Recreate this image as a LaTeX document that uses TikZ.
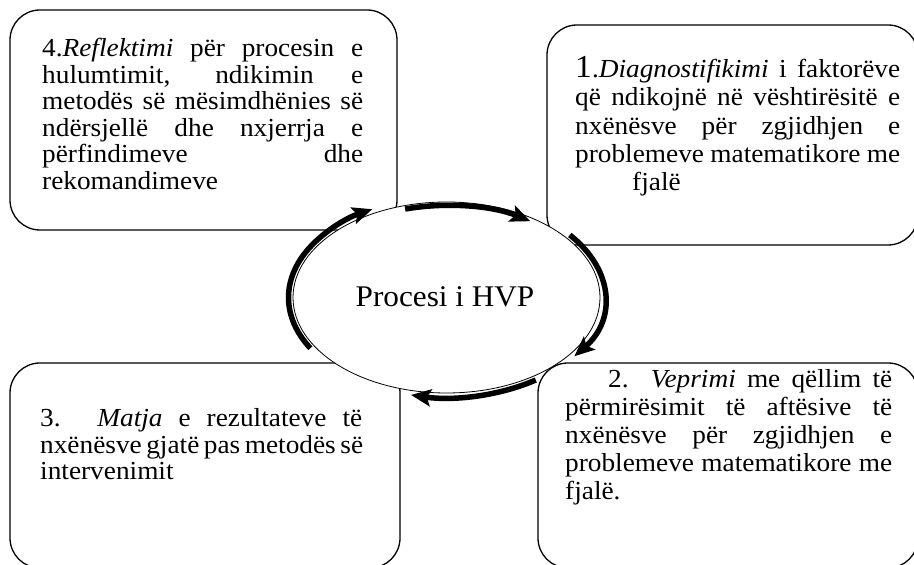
\documentclass[tikz,border=0pt]{standalone}
\usepackage{fontspec}
\setmainfont{Liberation Serif}
\newfontfamily\boxfont[FakeStretch=1.05]{Liberation Serif}
\newfontfamily\hubfont[FakeStretch=1.04]{Liberation Serif}
\usetikzlibrary{arrows.meta,shapes.geometric}

% one justified line of box text, spread to the given width
\newcommand\justline[5]{\node[txtline] (#1) at (#2,#3) {\makebox[#4pt][s]{#5}};}
% one ragged line of box text
\newcommand\plainline[4]{\node[txtline] (#1) at (#2,#3) {#4};}

\begin{document}
\begin{tikzpicture}[x=1pt,y=1pt,
  stagebox/.style={draw, rounded corners=30pt, line width=1.3pt, inner sep=0pt},
  txtline/.style={anchor=base west, inner sep=0pt, font=\boxfont\fontsize{26}{26}\selectfont},
  cyc/.style={line width=5.5pt, -{Stealth[length=20pt,width=17pt,inset=4pt]}}
]
\useasboundingbox (0,0) rectangle (914,565);

% the four stage boxes
\node[stagebox, minimum width=387pt, minimum height=220pt] (b4) at (203.5,445) {};
\node[stagebox, minimum width=371pt, minimum height=220pt] (b1) at (732.5,430) {};
\node[stagebox, minimum width=390pt, minimum height=205pt] (b3) at (205,99.5) {};
\node[stagebox, minimum width=380pt, minimum height=205pt] (b2) at (728,99.5) {};

% box 4 text
\justline{t4a}{42}{508}{321}{4.\textit{Reflektimi} për procesin e}
\justline{t4b}{42}{481.5}{321}{hulumtimit, ndikimin e}
\justline{t4c}{42}{455}{321}{metodës së mësimdhënies së}
\justline{t4d}{42}{428.5}{321}{ndërsjellë dhe nxjerrja e}
\justline{t4e}{42}{402}{321}{përfindimeve dhe}
\plainline{t4f}{42}{375.5}{rekomandimeve}

% box 1 text
\justline{t1a}{575}{487.5}{325}{{\fontsize{32}{32}\selectfont 1}.\textit{Diagnostifikimi} i faktorëve}
\justline{t1b}{575}{459.2}{325}{që ndikojnë në vështirësitë e}
\justline{t1c}{575}{430.9}{325}{nxënësve për zgjidhjen e}
\justline{t1d}{575}{402.6}{325}{problemeve matematikore me}
\plainline{t1e}{632}{374.3}{fjalë}

% box 2 text
\justline{t2a}{608}{177}{284}{2. \textit{Veprimi} me qëllim të}
\justline{t2b}{565}{149}{327}{përmirësimit të aftësive të}
\justline{t2c}{565}{121}{327}{nxënësve për zgjidhjen e}
\justline{t2d}{565}{93}{327}{problemeve matematikore me}
\plainline{t2e}{565}{65}{fjalë.}

% box 3 text
\justline{t3a}{40}{138}{322}{3. \textit{Matja} e rezultateve të}
\justline{t3b}{40}{111.5}{322}{nxënësve gjatë pas metodës së}
\plainline{t3c}{40}{85}{intervenimit}

% central ellipse
\node[draw, ellipse, fill=white, line width=0.8pt, inner sep=0pt,
      minimum width=307pt, minimum height=191pt] (ell) at (446.5,267.5) {};
\node[anchor=base, inner sep=0pt, font=\hubfont\fontsize{30}{30}\selectfont] (hvp) at (445,258) {Procesi i HVP};

% cycle arrows around the ellipse
\draw[cyc] ([shift={(210.5:158pt and 100pt)}]ell.center)
  arc[start angle=210.5, end angle=118, x radius=158pt, y radius=100pt];
\draw[cyc] ([shift={(106:150pt and 92pt)}]ell.center)
  arc[start angle=106, end angle=56, x radius=150pt, y radius=92pt];
\draw[cyc] ([shift={(38.7:158pt and 100pt)}]ell.center)
  arc[start angle=38.7, end angle=-36, x radius=158pt, y radius=100pt];
\draw[cyc] ([shift={(-55.6:158pt and 100pt)}]ell.center)
  arc[start angle=-55.6, end angle=-103, x radius=158pt, y radius=100pt];
\end{tikzpicture}
\end{document}
